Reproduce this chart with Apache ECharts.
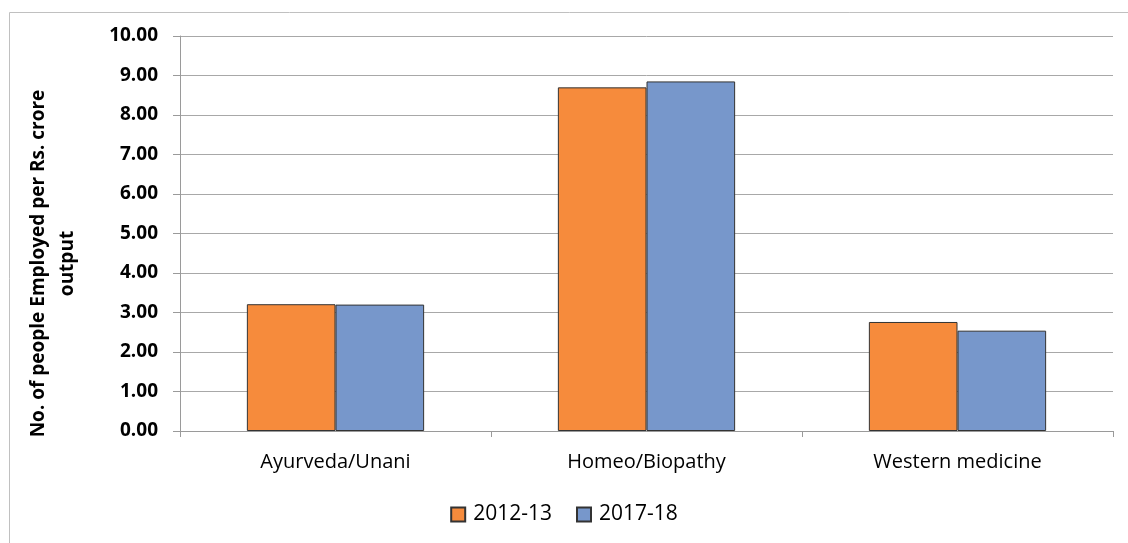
<!DOCTYPE html>
<html><head><meta charset="utf-8">
<script src="https://cdn.jsdelivr.net/npm/echarts@6/dist/echarts.min.js"></script>
<style>html,body{margin:0;padding:0;background:#fff}#c{width:1128px;height:543px}</style>
</head><body><div id="c"></div>
<script>
const categories = ['Ayurveda/Unani', 'Homeo/Biopathy', 'Western medicine'];
const series2012 = [3.21, 8.70, 2.76];
const series2017 = [3.20, 8.85, 2.54];
const seriesNames = ['2012-13', '2017-18'];
const yAxisTitle = 'No. of people Employed per Rs. crore\noutput';

const FONT = '"Open Sans", "DejaVu Sans", sans-serif';
const chart = echarts.init(document.getElementById('c'), null, {renderer: 'canvas'});
chart.setOption({
  animation: false,
  backgroundColor: '#fff',
  graphic: [{
    type: 'rect', left: 7, top: 10, silent: true,
    shape: {width: 1140, height: 560},
    style: {fill: 'none', stroke: '#c0c0c0', lineWidth: 1}
  }],
  grid: {left: 180, right: 15, top: 36, bottom: 112, containLabel: false},
  legend: {
    top: 499, left: 'center', itemWidth: 14, itemHeight: 14, itemGap: 24,
    textStyle: {fontFamily: FONT, fontSize: 21, color: '#000', padding: [0, 0, 0, 3]},
    data: seriesNames.map(n => ({name: n, icon: 'rect'}))
  },
  xAxis: {
    type: 'category', data: categories,
    axisLine: {lineStyle: {color: '#9a9a9a', width: 1}},
    axisTick: {show: true, length: 6, lineStyle: {color: '#9a9a9a'}},
    axisLabel: {fontFamily: FONT, fontSize: 20, color: '#000', margin: 21}
  },
  yAxis: {
    type: 'value', min: 0, max: 10, interval: 1,
    name: yAxisTitle, nameLocation: 'middle', nameGap: 98, nameRotate: 90,
    nameTextStyle: {fontFamily: FONT, fontSize: 19, fontWeight: 'bold', color: '#000', lineHeight: 29,
      padding: [0, 60, 0, 0]},
    axisLine: {show: true, lineStyle: {color: '#9a9a9a', width: 1}},
    axisTick: {show: true, length: 7, lineStyle: {color: '#9a9a9a'}},
    axisLabel: {fontFamily: FONT, fontSize: 19, fontWeight: 'bold', color: '#000', margin: 22,
      formatter: v => v.toFixed(2)},
    splitLine: {lineStyle: {color: '#a8a8a8', width: 1}}
  },
  series: [
    {name: seriesNames[0], type: 'bar', data: series2012, barGap: '0%', barCategoryGap: '43%',
      itemStyle: {color: '#F68B3C', borderColor: '#333', borderWidth: 1}},
    {name: seriesNames[1], type: 'bar', data: series2017, barGap: '0%', barCategoryGap: '43%',
      itemStyle: {color: '#7797CB', borderColor: '#333', borderWidth: 1}}
  ]
});
</script></body></html>
